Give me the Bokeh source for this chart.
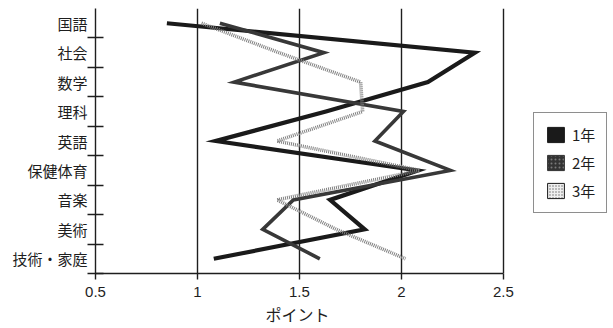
from bokeh.plotting import figure
from bokeh.models import (FactorRange, Range1d, LinearAxis, CategoricalAxis, FixedTicker,
                          NumeralTickFormatter, Legend, LegendItem, ColumnDataSource, Title)
from bokeh.embed import file_html
from bokeh.resources import INLINE

# ---- data ----
categories = ["国語", "社会", "数学", "理科", "英語", "保健体育", "音楽", "美術", "技術・家庭"]
series_names = ["1年", "2年", "3年"]
year1 = [0.85, 2.36, 2.13, 1.63, 1.09, 2.08, 1.65, 1.82, 1.08]
year2 = [1.11, 1.62, 1.18, 2.01, 1.87, 2.24, 1.47, 1.32, 1.60]
year3 = [1.02, 1.40, 1.80, 1.81, 1.39, 2.09, 1.39, 1.68, 2.02]
x_ticks = [0.5, 1.0, 1.5, 2.0, 2.5]
x_title = "ポイント"

JP = "Noto Sans CJK JP"
LAT = "Liberation Sans"
INK = "#1e1e1e"

# frame extends to the right edge so the legend can sit inside it; the axis stops at 2.5
x_view_end = 3.04

p = figure(width=613, height=328, output_backend="svg", toolbar_location=None,
           x_range=Range1d(x_ticks[0], x_view_end),
           y_range=FactorRange(factors=categories[::-1], range_padding=0),
           x_axis_location=None, y_axis_location=None,
           min_border_left=95, min_border_right=0, min_border_top=8, min_border_bottom=55)
p.outline_line_color = None
p.background_fill_color = "white"
p.border_fill_color = "white"

# boundary ticks between categories (synthetic category coordinates are 0..N)
tick_axis = LinearAxis(ticker=FixedTicker(ticks=list(range(0, len(categories)))),
                       major_tick_in=8, major_tick_out=8, minor_tick_in=0, minor_tick_out=0,
                       major_label_text_font_size="1px", major_label_text_color=None,
                       major_label_standoff=0,
                       axis_line_color=INK, axis_line_width=1.4,
                       major_tick_line_color=INK, major_tick_line_width=1.4)
p.add_layout(tick_axis, "left")

cat_axis = CategoricalAxis(axis_line_color=None, major_tick_in=0, major_tick_out=0,
                           major_label_standoff=0,
                           major_label_text_font=JP, major_label_text_font_size="15px",
                           major_label_text_color=INK)
p.add_layout(cat_axis, "left")

x_axis = LinearAxis(ticker=FixedTicker(ticks=x_ticks), bounds=(x_ticks[0], x_ticks[-1]),
                    formatter=NumeralTickFormatter(format="0.[0]"),
                    major_tick_in=0, major_tick_out=6, minor_tick_in=0, minor_tick_out=0,
                    axis_line_color=INK, axis_line_width=1.4,
                    major_tick_line_color=INK, major_tick_line_width=1.4,
                    major_label_standoff=7,
                    major_label_text_font=LAT, major_label_text_font_size="15px",
                    major_label_text_color=INK)
p.add_layout(x_axis, "below")

# axis title placed under the middle of the 0.5–2.5 span
p.add_layout(Title(text=x_title, align="left", offset=170, standoff=0,
                   text_font=JP, text_font_size="16px", text_font_style="normal",
                   text_color=INK), "below")

p.xgrid.ticker = FixedTicker(ticks=x_ticks)
p.xgrid.grid_line_color = INK
p.xgrid.grid_line_width = 1.4
p.ygrid.grid_line_color = None

src = ColumnDataSource(dict(cat=categories, y1=year1, y2=year2, y3=year3))
p.line("y1", "cat", source=src, line_color="#1a1a1a", line_width=4.2, line_join="miter")
p.line("y2", "cat", source=src, line_color="#383838", line_width=3.6, line_join="miter")
p.line("y3", "cat", source=src, line_color="#808080", line_width=3.6, line_dash="1 1",
       line_join="miter")

# legend swatches (rects that are never drawn in the plot area)
blank = ColumnDataSource(dict(x=[float("nan")], y=[categories[0]]))
r1 = p.rect("x", "y", width=1, height=1, source=blank, fill_color="#1a1a1a", line_color="#1a1a1a")
r2 = p.rect("x", "y", width=1, height=1, source=blank, fill_color="#333333", line_color="#333333",
            hatch_pattern="dot", hatch_color="#7a7a7a", hatch_scale=4, hatch_weight=1)
r3 = p.rect("x", "y", width=1, height=1, source=blank, fill_color="#eeeeee", line_color="#1a1a1a",
            hatch_pattern="dot", hatch_color="#6a6a6a", hatch_scale=3, hatch_weight=1)

legend = Legend(items=[LegendItem(label=series_names[0], renderers=[r1]),
                       LegendItem(label=series_names[1], renderers=[r2]),
                       LegendItem(label=series_names[2], renderers=[r3])],
                location=(438, 60), orientation="vertical",
                border_line_color=INK, border_line_width=1.4, background_fill_color="white",
                background_fill_alpha=1.0,
                padding=11, margin=0, spacing=7, glyph_width=21, glyph_height=19,
                label_standoff=6, label_height=19,
                label_text_font=JP, label_text_font_size="15px", label_text_color=INK)
p.add_layout(legend, "center")

open("out.html", "w").write(file_html(p, INLINE))
